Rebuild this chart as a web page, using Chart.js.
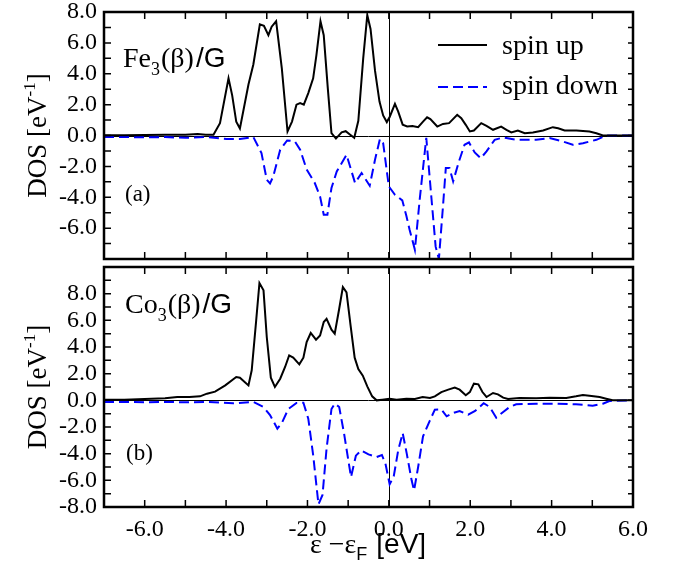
<!DOCTYPE html>
<html>
<head>
<meta charset="utf-8">
<script src="https://cdn.jsdelivr.net/npm/chart.js@4"></script>
<style>
  body { margin: 0; background: #fff; }
  .panel { position: absolute; left: 0; }
</style>
</head>
<body>
<div class="panel" style="top:0"><canvas id="topChart" width="675" height="263"></canvas></div>
<div class="panel" style="top:263px"><canvas id="bottomChart" width="675" height="311"></canvas></div>
<script>
// Fe3(beta)/G, spin up
const feUpE = [-7.0, -6.5, -6.0, -5.5, -5.0, -4.7, -4.5, -4.31, -4.15, -3.94, -3.85, -3.75, -3.66, -3.45, -3.33, -3.17, -3.07, -2.96, -2.88, -2.77, -2.63, -2.49, -2.38, -2.27, -2.18, -2.09, -1.98, -1.86, -1.78, -1.68, -1.60, -1.50, -1.41, -1.30, -1.16, -1.06, -0.95, -0.85, -0.75, -0.63, -0.53, -0.45, -0.34, -0.23, -0.14, -0.05, 0.02, 0.15, 0.23, 0.34, 0.45, 0.58, 0.72, 0.84, 0.94, 1.02, 1.19, 1.33, 1.48, 1.68, 1.78, 1.89, 1.99, 2.09, 2.27, 2.40, 2.56, 2.76, 2.89, 3.01, 3.17, 3.34, 3.54, 3.79, 4.03, 4.16, 4.32, 4.61, 4.93, 5.10, 5.26, 5.5, 6.0];
const feUpDos = [0.02, 0.02, 0.03, 0.05, 0.05, 0.1, 0.05, 0.05, 0.8, 3.7, 2.6, 0.9, 0.45, 3.3, 4.6, 7.2, 7.1, 6.5, 7.05, 7.4, 4.35, 0.26, 0.9, 2.0, 2.1, 2.0, 2.75, 3.7, 5.2, 7.4, 6.5, 3.05, 0.15, -0.2, 0.2, 0.28, 0.05, -0.15, 0.95, 5.0, 7.8, 6.9, 4.2, 2.2, 1.3, 0.87, 1.2, 2.05, 1.55, 0.7, 0.58, 0.62, 0.54, 0.9, 1.18, 1.06, 0.58, 0.75, 0.8, 1.34, 1.12, 0.69, 0.26, 0.32, 0.8, 0.62, 0.37, 0.58, 0.37, 0.2, 0.32, 0.15, 0.2, 0.32, 0.54, 0.47, 0.32, 0.32, 0.26, 0.15, 0.0, 0.0, 0.0];

// Fe3(beta)/G, spin down
const feDownE = [-7.0, -6.5, -6.0, -5.5, -5.0, -4.49, -3.99, -3.66, -3.33, -3.13, -3.00, -2.92, -2.84, -2.67, -2.50, -2.31, -2.18, -2.02, -1.82, -1.69, -1.60, -1.51, -1.41, -1.28, -1.04, -0.83, -0.67, -0.47, -0.34, -0.22, -0.14, 0.0, 0.15, 0.33, 0.43, 0.51, 0.64, 0.76, 0.92, 1.05, 1.15, 1.23, 1.33, 1.40, 1.49, 1.58, 1.72, 1.86, 1.97, 2.11, 2.26, 2.40, 2.60, 2.81, 3.13, 3.62, 3.95, 4.28, 4.52, 4.77, 5.10, 5.34, 6.0];
const feDownDos = [-0.1, -0.1, -0.12, -0.1, -0.15, -0.1, -0.23, -0.23, -0.1, -1.14, -2.87, -3.1, -2.65, -0.92, -0.32, -0.38, -0.92, -2.2, -3.08, -3.95, -5.13, -5.13, -3.4, -2.33, -1.25, -3.08, -2.43, -3.25, -1.57, -0.23, -0.5, -3.3, -3.84, -4.2, -5.2, -6.1, -7.4, -4.1, -0.15, -4.16, -7.2, -8.0, -4.6, -2.1, -2.1, -2.97, -1.7, -0.6, -0.45, -1.1, -1.47, -1.03, -0.28, -0.13, -0.28, -0.28, -0.17, -0.39, -0.6, -0.5, -0.28, 0.0, 0.0];

// Co3(beta)/G, spin up
const coUpE = [-7.0, -6.5, -6.0, -5.5, -5.2, -4.9, -4.64, -4.47, -4.27, -4.02, -3.75, -3.66, -3.45, -3.37, -3.26, -3.18, -3.08, -3.00, -2.90, -2.80, -2.67, -2.55, -2.45, -2.35, -2.20, -2.10, -2.02, -1.92, -1.79, -1.69, -1.60, -1.53, -1.41, -1.33, -1.22, -1.13, -1.04, -0.94, -0.84, -0.75, -0.64, -0.53, -0.41, -0.30, -0.16, 0.02, 0.19, 0.43, 0.64, 0.83, 1.01, 1.13, 1.29, 1.46, 1.62, 1.74, 1.89, 1.99, 2.09, 2.20, 2.30, 2.40, 2.56, 2.68, 2.81, 2.93, 3.21, 3.62, 3.95, 4.36, 4.60, 4.77, 4.93, 5.18, 5.34, 5.50, 6.0];
const coUpDos = [0.05, 0.05, 0.1, 0.15, 0.25, 0.25, 0.3, 0.5, 0.65, 1.12, 1.75, 1.7, 1.12, 2.25, 6.0, 8.8, 8.25, 4.75, 1.7, 1.0, 1.62, 2.5, 3.37, 3.2, 2.7, 3.2, 4.37, 5.05, 4.55, 4.87, 5.87, 6.12, 5.3, 5.0, 6.87, 8.5, 8.1, 5.6, 3.2, 2.35, 1.85, 1.05, 0.3, 0.0, 0.05, 0.12, 0.05, 0.12, 0.1, 0.25, 0.18, 0.3, 0.62, 0.8, 0.95, 0.8, 0.38, 0.62, 1.25, 1.2, 0.62, 0.25, 0.55, 0.45, 0.2, 0.1, 0.18, 0.15, 0.2, 0.18, 0.3, 0.4, 0.35, 0.25, 0.12, 0.0, 0.0];

// Co3(beta)/G, spin down
const coDownE = [-7.0, -6.5, -6.0, -5.5, -5.0, -4.47, -3.83, -3.33, -3.08, -2.92, -2.74, -2.63, -2.47, -2.27, -2.10, -1.98, -1.86, -1.73, -1.63, -1.53, -1.41, -1.33, -1.22, -1.10, -0.93, -0.81, -0.68, -0.50, -0.30, -0.17, -0.08, 0.02, 0.12, 0.23, 0.34, 0.44, 0.56, 0.62, 0.72, 0.84, 1.01, 1.13, 1.29, 1.42, 1.60, 1.74, 1.95, 2.12, 2.33, 2.48, 2.64, 2.81, 2.97, 3.13, 3.62, 4.11, 4.60, 5.01, 5.26, 5.42, 6.0];
const coDownDos = [-0.12, -0.12, -0.15, -0.12, -0.15, -0.12, -0.22, -0.12, -0.5, -1.1, -2.12, -1.7, -0.65, -0.2, -0.18, -1.37, -4.1, -7.8, -7.1, -3.6, -0.65, -0.25, -0.5, -2.5, -5.75, -4.15, -3.75, -4.05, -4.25, -4.1, -4.8, -6.3, -5.7, -3.75, -2.45, -4.0, -6.0, -6.75, -5.0, -2.7, -1.5, -0.7, -0.68, -1.2, -0.93, -0.8, -1.08, -0.8, -0.22, -0.5, -1.3, -0.87, -0.5, -0.3, -0.25, -0.25, -0.3, -0.4, -0.25, -0.05, 0.0];

const seriesNames = ['spin up', 'spin down'];
const xMin = -7, xMax = 6;

const SERIF = '"Liberation Serif", "DejaVu Serif", serif';
const SANS = '"Liberation Sans", Arial, sans-serif';
const BLUE = '#0000ff';
Chart.defaults.font.family = SERIF;

function pts(xs, ys) {
  return xs.map((x, i) => ({ x: x, y: ys[i] }));
}

// draw a row of text pieces (for sub/superscripts)
function drawRuns(ctx, x, y, runs) {
  ctx.textAlign = 'left';
  ctx.textBaseline = 'alphabetic';
  runs.forEach(r => {
    ctx.font = r.font;
    ctx.fillText(r.t, x, y + (r.dy || 0));
    x += ctx.measureText(r.t).width + (r.gap || 0);
  });
}
function runsWidth(ctx, runs) {
  let w = 0;
  runs.forEach(r => { ctx.font = r.font; w += ctx.measureText(r.t).width + (r.gap || 0); });
  return w;
}

// no extra room for overhanging tick labels, plot box is set by padding
function noPad(s) {
  s.paddingTop = 0; s.paddingBottom = 0; s.paddingLeft = 0; s.paddingRight = 0;
}

const deco = {
  id: 'deco',
  beforeDatasetsDraw(chart) {
    const { ctx, chartArea: a, scales } = chart;
    ctx.save();
    ctx.strokeStyle = '#000';
    ctx.lineWidth = 1;
    const y0 = Math.round(scales.y.getPixelForValue(0)) + 0.5;
    const x0 = Math.round(scales.x.getPixelForValue(0)) + 0.5;
    ctx.beginPath();
    ctx.moveTo(a.left, y0); ctx.lineTo(a.right, y0);
    ctx.moveTo(x0, a.top); ctx.lineTo(x0, a.bottom);
    ctx.stroke();
    ctx.restore();
  },
  afterDatasetsDraw(chart, args, opts) {
    const { ctx, chartArea: a, scales } = chart;
    ctx.save();
    ctx.strokeStyle = '#000';
    // inward ticks on all four sides
    ctx.lineWidth = 1.5;
    const tl = 7;
    ctx.beginPath();
    for (let v = scales.x.min + 1; v < scales.x.max; v++) {
      const p = scales.x.getPixelForValue(v);
      ctx.moveTo(p, a.bottom); ctx.lineTo(p, a.bottom - tl);
      ctx.moveTo(p, a.top); ctx.lineTo(p, a.top + tl);
    }
    for (let v = scales.y.min + 1; v < scales.y.max; v++) {
      const p = scales.y.getPixelForValue(v);
      ctx.moveTo(a.left, p); ctx.lineTo(a.left + tl, p);
      ctx.moveTo(a.right, p); ctx.lineTo(a.right - 5, p);
    }
    ctx.stroke();
    // frame
    ctx.lineWidth = 2.5;
    ctx.strokeRect(a.left, a.top, a.right - a.left, a.bottom - a.top);

    ctx.fillStyle = '#000';
    // system label, e.g. Fe3(beta)/G
    drawRuns(ctx, opts.nameX, opts.nameY, [
      { t: opts.elem, font: '28px ' + SERIF },
      { t: '3', font: '18px ' + SERIF, dy: 8, gap: 1 },
      { t: '(β)', font: '28px ' + SERIF, gap: 2 },
      { t: '/G', font: '28px ' + SANS }
    ]);
    ctx.font = '23px ' + SERIF;
    ctx.textAlign = 'left';
    ctx.fillText(opts.tag, opts.tagX, opts.tagY);

    // y title, rotated
    const yRuns = [
      { t: 'DOS [eV', font: '27px ' + SERIF },
      { t: '-1', font: '17px ' + SERIF, dy: -11 },
      { t: ']', font: '27px ' + SERIF }
    ];
    ctx.save();
    ctx.translate(46, (a.top + a.bottom) / 2);
    ctx.rotate(-Math.PI / 2);
    drawRuns(ctx, -runsWidth(ctx, yRuns) / 2, 0, yRuns);
    ctx.restore();

    // legend
    if (opts.legend) {
      const ds = chart.data.datasets;
      [[45, 54], [87, 94]].forEach((row, i) => {
        ctx.save();
        ctx.strokeStyle = ds[i].borderColor;
        ctx.lineWidth = 2;
        ctx.setLineDash(ds[i].borderDash || []);
        ctx.beginPath();
        ctx.moveTo(438, row[0]); ctx.lineTo(487, row[0]);
        ctx.stroke();
        ctx.restore();
        ctx.font = '28px ' + SERIF;
        ctx.fillStyle = '#000';
        ctx.fillText(ds[i].label, 502, row[1]);
      });
    }

    // x title
    if (opts.xTitle) {
      drawRuns(ctx, 310, a.bottom + 46, [
        { t: 'ε −ε', font: '28px ' + SERIF },
        { t: 'F', font: '18px ' + SANS, dy: 7, gap: 9 },
        { t: '[eV]', font: '28px ' + SANS }
      ]);
    }
    ctx.restore();
  }
};

function makePanel(id, upE, upDos, downE, downDos, yMin, yMax, bottom, deco) {
  return new Chart(document.getElementById(id), {
    type: 'line',
    data: {
      datasets: [{
        label: seriesNames[0],
        data: pts(upE, upDos),
        borderColor: '#000',
        borderWidth: 2,
        pointRadius: 0,
        tension: 0
      }, {
        label: seriesNames[1],
        data: pts(downE, downDos),
        borderColor: BLUE,
        borderWidth: 2,
        borderDash: [10, 5],
        pointRadius: 0,
        tension: 0
      }]
    },
    options: {
      responsive: false,
      animation: false,
      devicePixelRatio: 1,
      layout: { padding: { top: bottom ? 4 : 12, right: 42, left: 0, bottom: 0 } },
      plugins: { legend: { display: false }, tooltip: { enabled: false }, deco: deco },
      scales: {
        x: {
          type: 'linear',
          min: xMin, max: xMax,
          grid: { display: false, drawTicks: false },
          border: { display: false },
          ticks: {
            display: bottom,
            stepSize: 1,
            padding: 8,
            color: '#000',
            font: { family: SERIF, size: 24 },
            maxRotation: 0,
            autoSkip: false,
            callback: v => (v % 2 === 0 ? v.toFixed(1) : '')
          },
          afterFit: s => { noPad(s); s.height = bottom ? 67 : 4; }
        },
        y: {
          min: yMin, max: yMax,
          grid: { display: false, drawTicks: false },
          border: { display: false },
          ticks: {
            stepSize: 1,
            padding: 7,
            color: '#000',
            font: { family: SERIF, size: 24 },
            autoSkip: false,
            callback: v => {
              if (v % 2 !== 0) return '';
              if (bottom && v === yMax) return '';
              if (!bottom && v === yMin) return '';
              return v.toFixed(1);
            }
          },
          afterFit: s => { noPad(s); s.width = 104; }
        }
      }
    },
    plugins: [deco.plugin]
  });
}

makePanel('topChart', feUpE, feUpDos, feDownE, feDownDos, -8, 8, false,
  { plugin: deco, elem: 'Fe', nameX: 123, nameY: 67, tag: '(a)', tagX: 125, tagY: 201, legend: true, xTitle: false });
makePanel('bottomChart', coUpE, coUpDos, coDownE, coDownDos, -8, 10, true,
  { plugin: deco, elem: 'Co', nameX: 125, nameY: 50, tag: '(b)', tagX: 126, tagY: 197, legend: false, xTitle: true });
</script>
</body>
</html>
